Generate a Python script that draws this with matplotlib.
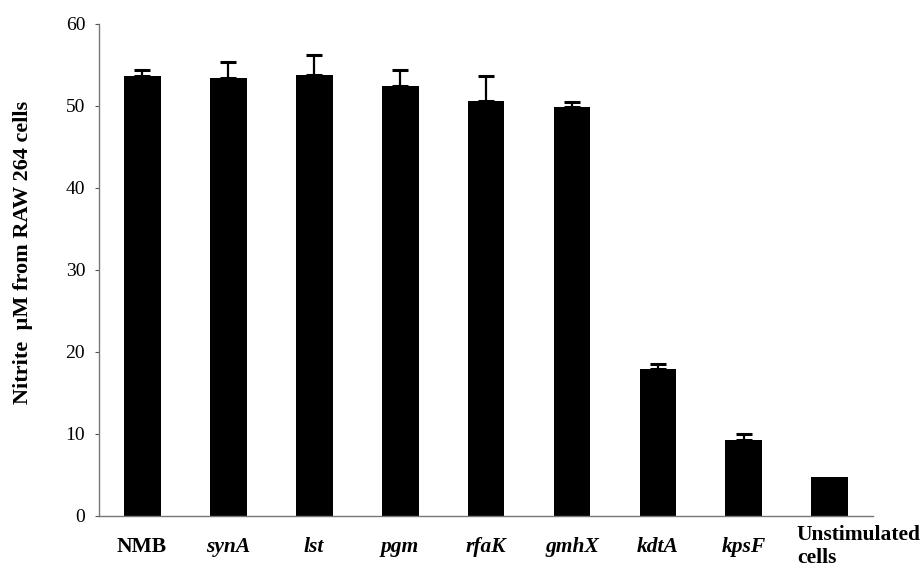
import matplotlib
matplotlib.use("Agg")
import matplotlib.pyplot as plt
from matplotlib.transforms import blended_transform_factory

# Nitrite release by RAW 264 macrophages stimulated with each strain
strains = ["NMB", "synA", "lst", "pgm", "rfaK", "gmhX", "kdtA", "kpsF", "Unstimulated\ncells"]
italic = [False, True, True, True, True, True, True, True, False]
nitrite = [53.7, 53.4, 53.8, 52.4, 50.6, 49.9, 17.9, 9.3, 4.7]
err_up = [0.7, 2.0, 2.4, 2.0, 3.1, 0.6, 0.6, 0.7, 0.0]

plt.rcParams["font.family"] = ["Liberation Serif", "DejaVu Serif"]

fig = plt.figure(figsize=(9.23, 5.78), dpi=100)
ax = fig.add_axes([0.1073, 0.1073, 0.8385, 0.8512])

x = list(range(len(strains)))
ax.bar(x, nitrite, width=0.43, color="black", zorder=2)
ax.errorbar(x[:-1], nitrite[:-1], yerr=[[0] * (len(x) - 1), err_up[:-1]],
            fmt="none", ecolor="black", elinewidth=1.6, capsize=5.5,
            capthick=2.2, zorder=3)

ax.set_xlim(-0.5, len(strains) - 0.5)
ax.set_ylim(0, 60)
ax.set_yticks(range(0, 61, 10))
ax.tick_params(axis="y", direction="out", length=3, width=0.8,
               colors="#555555", labelcolor="black", labelsize=14, pad=7)
ax.tick_params(axis="x", length=0)
ax.set_xticks([])

for side in ("top", "right"):
    ax.spines[side].set_visible(False)
for side in ("left", "bottom"):
    ax.spines[side].set_color("#777777")
    ax.spines[side].set_linewidth(1.0)

trans = blended_transform_factory(ax.transData, ax.transAxes)
for xi, name, it in zip(x, strains, italic):
    if "\n" in name:
        first, second = name.split("\n")
        ax.text(xi - 0.384, -0.0488, first, transform=trans, ha="left",
                va="baseline", fontsize=15.5, fontweight="bold")
        ax.text(xi - 0.384, -0.0955, second, transform=trans, ha="left",
                va="baseline", fontsize=15.5, fontweight="bold")
    else:
        ax.text(xi, -0.0732, name, transform=trans, ha="center", va="baseline",
                fontsize=15.5, fontweight="bold",
                fontstyle="italic" if it else "normal")

fig.text(0.025, 0.564, "Nitrite  \u00b5M from RAW 264 cells", rotation=90,
         ha="center", va="center", fontsize=16, fontweight="bold")

fig.savefig("out.png", dpi=100)
